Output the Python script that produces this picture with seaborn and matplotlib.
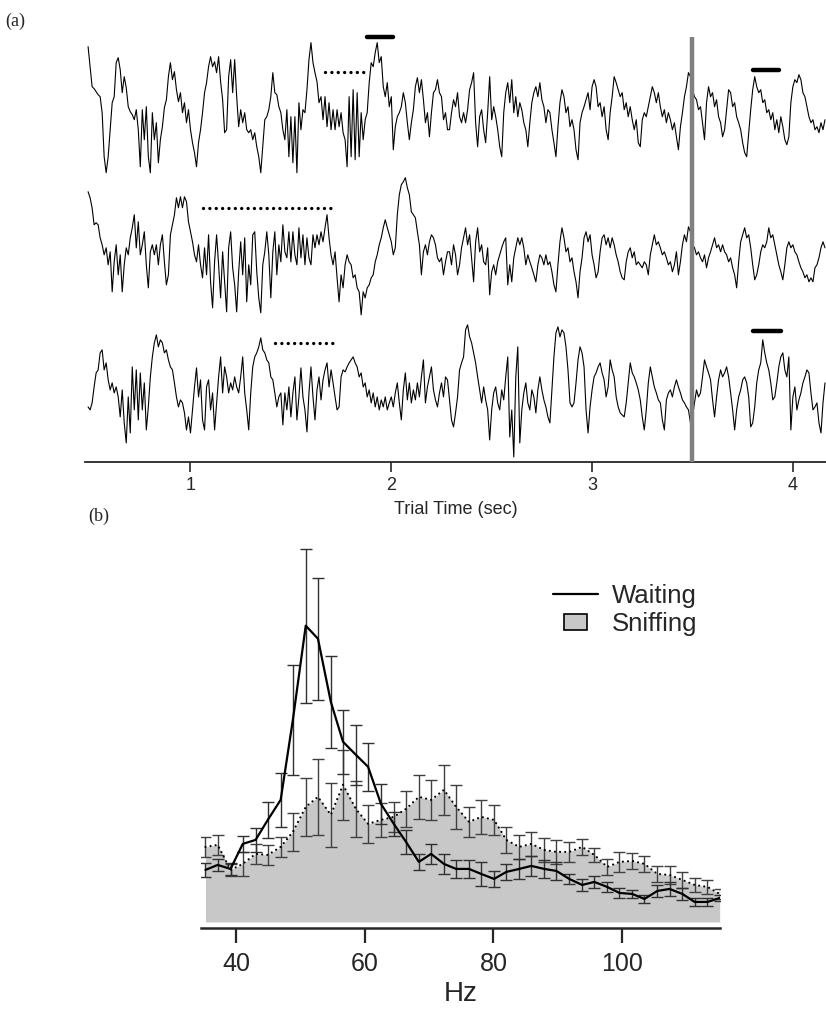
import numpy as np
import matplotlib
matplotlib.use("Agg")
import matplotlib.pyplot as plt
from matplotlib.patches import Rectangle
from matplotlib.lines import Line2D
from matplotlib.legend_handler import HandlerPatch
import seaborn as sns

sns.set_style("white")
plt.rcParams['font.family'] = ['Liberation Sans', 'DejaVu Sans']

# ---- (a) LFP traces, one sample every 10 ms from 0.49 s (arbitrary units)
t_start = 0.49
dt = 0.01
trace1 = [
    133,113,93,91,88,85,83,67,23,7, 23,50,77,83,117,122,110,87,103,92,
    73,68,65,60,70,50,13,70,40,73, 23,7,67,40,57,17,40,53,72,80,
    103,117,100,108,90,78,87,67,77,57, 70,50,37,27,13,37,50,67,87,97,
    113,123,113,118,107,123,98,80,47,50, 103,120,87,120,83,53,70,57,67,50,
    47,50,40,47,33,23,7,33,60,63, 70,83,107,87,85,73,67,50,40,70,
    23,63,17,63,7,77,50,70,67,90, 120,137,117,107,98,77,83,60,83,53,
    77,50,70,50,70,53,67,47,40,13, 83,23,90,20,87,23,67,40,60,67,
    97,117,113,127,137,117,123,93,83,97, 73,83,30,53,63,67,73,87,77,57,
    40,57,70,93,102,87,100,80,57,67, 43,67,87,90,100,87,83,60,67,50,
    50,67,80,73,87,63,57,67,57,70, 90,97,107,57,33,63,70,50,37,67,
    103,60,73,63,50,33,23,67,87,97, 77,100,67,83,63,77,70,57,50,33,
    57,77,87,93,83,97,80,73,57,70, 67,50,37,23,53,77,90,83,67,73,
    53,60,50,30,20,57,67,73,80,87, 70,93,100,93,73,77,63,73,50,40,
    67,83,103,97,90,83,87,70,77,63, 73,60,50,60,37,33,60,67,63,73,
    83,93,87,77,87,73,63,70,57,67, 60,50,57,43,30,53,67,83,93,107,
    103,90,83,80,70,73,57,40,77,93, 83,87,73,80,63,57,43,50,70,90,
    87,73,77,63,57,50,37,27,23,47, 70,90,103,93,87,90,77,80,67,70,
    60,67,50,60,47,63,53,40,35,43, 77,93,100,97,105,100,87,83,73,63,
    57,60,50,53,47,57,50,60,
]
trace2 = [
    128,122,112,95,97,95,82,75,65,72, 55,68,28,58,75,45,65,28,55,72,
    65,82,92,105,72,98,65,75,88,55, 32,68,75,65,75,55,75,85,58,35,
    45,85,95,105,122,112,123,112,123,118, 98,88,78,65,58,75,55,42,72,45,
    85,38,12,58,85,55,22,68,38,8, 72,88,52,35,8,48,78,45,82,18,
    55,35,85,88,48,22,7,55,68,88, 65,22,68,88,45,75,58,95,68,62,
    88,58,88,65,55,92,62,85,55,82, 62,55,85,72,85,75,88,78,92,105,
    82,65,55,68,42,18,45,32,55,65, 58,55,42,45,32,28,5,28,22,32,
    35,42,45,58,65,75,82,92,100,92, 85,78,65,72,105,125,135,138,142,132,
    125,108,105,102,88,75,45,68,75,65, 78,85,82,75,62,58,62,45,58,68,
    68,55,75,65,45,55,72,82,92,75, 85,62,38,78,92,68,75,58,55,72,
    25,48,55,45,58,65,72,78,82,35, 55,38,62,72,82,75,82,72,55,65,
    58,52,45,38,55,65,62,55,65,55, 58,48,35,28,55,78,92,82,68,72,
    58,62,48,38,22,48,62,82,88,78, 85,65,55,42,48,68,82,85,75,82,
    72,82,75,65,58,48,42,40,58,68, 72,62,68,55,58,55,52,58,55,45,
    65,75,85,75,78,72,65,68,62,55, 58,48,55,68,45,58,75,85,78,93,
    88,75,72,65,68,62,58,65,52,62, 68,75,82,72,75,68,75,68,65,58,
    62,52,45,32,58,78,85,92,82,85, 72,55,40,45,55,68,75,72,78,92,
    82,85,75,65,55,48,40,55,72,78, 72,75,68,65,58,52,48,42,45,38,
    42,38,52,55,62,72,78,72,
]
trace3 = [
    58,55,62,78,92,95,112,115,95,102, 85,75,82,72,78,68,48,75,42,22,
    68,32,98,55,95,45,92,55,82,35, 58,88,108,122,130,118,125,122,112,115,
    105,98,95,82,68,58,65,62,52,35, 48,32,55,78,97,68,85,45,35,78,
    85,55,72,35,62,88,108,72,98,88, 72,82,75,88,78,72,88,108,72,55,
    35,72,98,108,112,118,127,115,112,105, 102,88,85,72,58,68,72,40,72,55,
    78,48,72,88,45,68,97,68,55,33, 72,98,68,45,75,88,65,85,95,102,
    78,95,82,68,55,58,88,95,93,98, 102,105,108,102,98,88,92,78,82,68,
    75,62,72,58,68,55,65,58,68,55, 62,68,58,72,82,62,45,75,92,65,
    82,62,75,65,82,68,88,105,62,78, 88,98,75,65,58,72,82,68,88,85,
    65,45,38,52,68,95,102,108,135,140, 128,122,112,102,88,75,62,78,65,55,
    25,55,72,78,62,55,75,65,88,108, 28,55,8,88,118,22,55,72,82,62,
    55,75,68,52,75,88,75,65,58,48, 42,75,108,132,138,128,135,132,118,95,
    62,58,62,82,105,118,112,98,55,32, 58,75,88,92,98,102,92,85,68,78,
    105,95,88,68,58,52,50,48,62,82, 102,92,88,82,75,65,48,35,55,82,
    98,88,78,72,65,62,45,35,65,72, 75,68,78,85,78,72,65,62,58,55,
    42,48,62,75,68,72,88,105,98,92, 85,65,48,68,85,95,88,92,98,88,
    72,55,35,55,68,75,85,88,82,68, 38,42,58,82,95,102,125,112,102,95,
    82,65,68,82,98,108,112,95,88,108, 35,68,78,55,65,72,82,88,95,92,
    72,55,58,62,42,32,62,82,
]
odor_time = 3.5
# marked epochs (sec): dotted rows and solid bars, with the trace they belong to
dotted_epochs = [(0, 1.67, 1.87), (1, 1.06, 1.72), (2, 1.42, 1.71)]
bar_epochs = [(0, 1.88, 2.01), (0, 3.80, 3.93), (2, 3.80, 3.94)]

# ---- (b) spectra
freqs = [35.2, 37.1, 39.1, 41.0, 43.0, 44.9, 46.9, 48.8, 50.8, 52.7, 54.7,
         56.6, 58.6, 60.5, 62.5, 64.5, 66.4, 68.4, 70.3, 72.3, 74.2, 76.2,
         78.1, 80.1, 82.0, 84.0, 85.9, 87.9, 89.8, 91.8, 93.8, 95.7, 97.7,
         99.6, 101.6, 103.5, 105.5, 107.4, 109.4, 111.3, 113.3, 115.2]
waiting = [52, 57, 53, 78, 82, 102, 122, 202, 296, 283, 220, 180, 167, 155,
           118, 98, 80, 60, 68, 58, 53, 53, 48, 43, 50, 53, 56, 53, 51, 43,
           37, 40, 35, 29, 28, 23, 31, 33, 28, 20, 20, 24]
waiting_err = [7, 6, 6, 8, 12, 18, 27, 55, 77, 61, 46, 32, 30, 24, 20, 12, 12,
               8, 10, 10, 9, 9, 12, 8, 8, 10, 10, 9, 9, 5, 6, 6, 5, 5, 4, 4,
               6, 7, 6, 4, 4, 3]
sniffing = [75, 77, 52, 58, 68, 67, 75, 90, 115, 125, 107, 137, 113, 98, 102,
            105, 113, 125, 122, 132, 115, 100, 105, 102, 82, 75, 78, 72, 70,
            70, 75, 67, 55, 60, 61, 58, 48, 47, 42, 37, 35, 28]
sniffing_err = [10, 10, 6, 12, 10, 10, 10, 19, 29, 38, 32, 35, 28, 19, 17, 15,
                18, 22, 20, 25, 22, 15, 17, 15, 13, 12, 12, 12, 12, 10, 8, 7,
                8, 10, 8, 8, 8, 9, 8, 7, 7, 5]

# layout
trace_offsets = [282, 142, -3]
dotted_heights = [390, 254, 119]
bar_heights = [425, 392, 131]
fill_grey = '#c8c8c8'

fig = plt.figure(figsize=(8.26, 10.22), dpi=100)

# ---------------- panel (a)
ax1 = fig.add_axes([0.103, 0.548, 0.897, 0.423])
t = t_start + dt * np.arange(len(trace1))
for tr, off in zip([trace1, trace2, trace3], trace_offsets):
    sns.lineplot(x=t, y=np.array(tr) + off, ax=ax1, color='k', lw=0.8,
                 estimator=None, sort=False)
ax1.plot([odor_time, odor_time], [0, 425], color='#808080', lw=3.2,
         solid_capstyle='butt', zorder=3)
for (i, a, b), h in zip(dotted_epochs, dotted_heights):
    ax1.plot([a, b], [h, h], color='k', lw=2.4, linestyle=(0, (0.01, 1.9)),
             dash_capstyle='round')
for (i, a, b), h in zip(bar_epochs, bar_heights):
    ax1.plot([a, b], [h, h], color='k', lw=3.2, solid_capstyle='round')

ax1.set_xlim(0.475, 4.165)
ax1.set_ylim(0, 432)
for s in ['top', 'left', 'right']:
    ax1.spines[s].set_visible(False)
ax1.spines['bottom'].set_linewidth(1.3)
ax1.set_yticks([])
ax1.set_xticks([1, 2, 3, 4])
ax1.tick_params(axis='x', direction='out', length=7, width=1.2, labelsize=13,
                pad=4, bottom=True)
ax1.set_xlabel('Trial Time (sec)', fontsize=13, labelpad=5)

# ---------------- panel (b)
ax2 = fig.add_axes([0.2433, 0.092, 0.628, 0.38])
ax2.fill_between(freqs, 0, sniffing, color=fill_grey, lw=0, zorder=1)
ax2.errorbar(freqs, sniffing, yerr=sniffing_err, fmt='none', ecolor='#404040',
             elinewidth=1.0, capsize=4.5, capthick=1.0, zorder=2)
ax2.errorbar(freqs, waiting, yerr=waiting_err, fmt='none', ecolor='#303030',
             elinewidth=1.0, capsize=4.5, capthick=1.0, zorder=2)
sns.lineplot(x=freqs, y=sniffing, ax=ax2, color='k', lw=1.6,
             linestyle=(0, (0.01, 2.3)), dash_capstyle='round', zorder=3)
sns.lineplot(x=freqs, y=waiting, ax=ax2, color='k', lw=1.6, zorder=4)

ax2.set_xlim(34.5, 115.2)
ax2.set_ylim(-6, 382)
for s in ['top', 'left', 'right']:
    ax2.spines[s].set_visible(False)
ax2.spines['bottom'].set_linewidth(1.8)
ax2.set_yticks([])
ax2.set_xticks([40, 60, 80, 100])
ax2.tick_params(axis='x', direction='out', length=11, width=1.6, labelsize=18,
                pad=6, bottom=True)
ax2.set_xlabel('Hz', fontsize=20, labelpad=4)


def small_box(legend, orig_handle, xdescent, ydescent, width, height, fontsize):
    w, h = width * 0.52, height * 0.92
    return Rectangle((-xdescent + (width - w) / 2, -ydescent + (height - h) / 2), w, h)


handles = [Line2D([], [], color='k', lw=1.6),
           Rectangle((0, 0), 1, 1, facecolor=fill_grey, edgecolor='k', lw=1.2)]
fig.legend(handles, ['Waiting', 'Sniffing'], loc='upper left',
           bbox_to_anchor=(553 / 826, 1 - 584 / 1022), frameon=False,
           fontsize=18.5, handlelength=1.75, handletextpad=0.55,
           labelspacing=0.15, borderpad=0, borderaxespad=0,
           handler_map={Rectangle: HandlerPatch(patch_func=small_box)})

fig.text(5 / 826, 1 - 21 / 1022, '(a)', fontsize=13, va='center',
         family=['Liberation Serif', 'DejaVu Serif'])
fig.text(88 / 826, 1 - 516 / 1022, '(b)', fontsize=13, va='center',
         family=['Liberation Serif', 'DejaVu Serif'])

fig.savefig('out.png', dpi=100)
